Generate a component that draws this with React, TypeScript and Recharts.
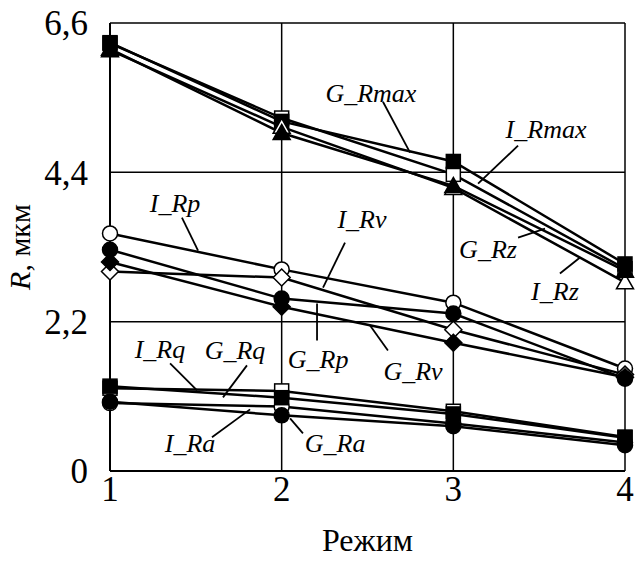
import React from "react";
import {
  LineChart,
  Line,
  XAxis,
  YAxis,
  CartesianGrid,
  ReferenceLine,
  ReferenceDot,
  Label,
} from "recharts";

const X_VALUES = [1, 2, 3, 4];
const Y_TICKS = [0, 2.2, 4.4, 6.6];
const X_TICKS = [1, 2, 3, 4];

const I_Rmax = [6.3, 5.2, 4.37, 2.98];
const I_Rz = [6.2, 5.07, 4.17, 2.78];
const I_Rp = [3.5, 2.97, 2.48, 1.51];
const I_Rv = [2.94, 2.85, 2.08, 1.42];
const I_Rq = [1.22, 1.18, 0.88, 0.5];
const I_Ra = [1.0, 0.95, 0.7, 0.42];

const G_Rmax = [6.31, 5.15, 4.56, 3.05];
const G_Rz = [6.22, 4.98, 4.2, 2.95];
const G_Rp = [3.26, 2.54, 2.32, 1.36];
const G_Rv = [3.08, 2.42, 1.89, 1.38];
const G_Rq = [1.25, 1.08, 0.84, 0.49];
const G_Ra = [1.02, 0.82, 0.66, 0.38];

// series: name, values, marker shape, filled (drawing order)
const SERIES = [
  { name: "I_Rmax", values: I_Rmax, shape: "square", filled: false },
  { name: "G_Rmax", values: G_Rmax, shape: "square", filled: true },
  { name: "I_Rz", values: I_Rz, shape: "triangle", filled: false },
  { name: "G_Rz", values: G_Rz, shape: "triangle", filled: true },
  { name: "I_Rp", values: I_Rp, shape: "circle", filled: false },
  { name: "I_Rv", values: I_Rv, shape: "diamond", filled: false },
  { name: "G_Rp", values: G_Rp, shape: "circle", filled: true },
  { name: "G_Rv", values: G_Rv, shape: "diamond", filled: true },
  { name: "I_Rq", values: I_Rq, shape: "square", filled: false },
  { name: "I_Ra", values: I_Ra, shape: "circle", filled: false },
  { name: "G_Rq", values: G_Rq, shape: "square", filled: true },
  { name: "G_Ra", values: G_Ra, shape: "circle", filled: true },
];

// annotation labels (data coords) and leader lines (data coords)
const ANNOTATIONS = [
  { text: "G_Rmax", x: 2.52, y: 5.57, line: [2.59, 5.44, 2.748, 4.69] },
  { text: "I_Rmax", x: 3.54, y: 5.04, line: [3.377, 4.793, 3.144, 4.234] },
  { text: "G_Rz", x: 3.202, y: 3.277, line: [3.377, 3.439, 3.534, 3.571] },
  { text: "I_Rz", x: 3.592, y: 2.655, line: [3.621, 2.91, 3.738, 3.145] },
  { text: "I_Rv", x: 2.468, y: 3.719, line: [2.369, 3.366, 2.241, 2.703] },
  { text: "I_Rp", x: 1.379, y: 3.954, line: [1.419, 3.733, 1.513, 3.247] },
  { text: "G_Rp", x: 2.212, y: 1.645, line: [2.206, 1.924, 2.206, 2.468] },
  { text: "G_Rv", x: 2.765, y: 1.469, line: [2.619, 1.776, 2.515, 2.144] },
  { text: "I_Rq", x: 1.291, y: 1.792, line: [1.35, 1.585, 1.507, 1.188] },
  { text: "G_Rq", x: 1.728, y: 1.776, line: [1.798, 1.556, 1.658, 1.085] },
  { text: "I_Ra", x: 1.466, y: 0.408, line: [1.594, 0.496, 1.816, 0.908] },
  { text: "G_Ra", x: 2.311, y: 0.408, line: [2.124, 0.555, 2.049, 0.776] },
];

const FONT = "Liberation Serif";

const rows = X_VALUES.map((x, i) => {
  const r: any = { x };
  SERIES.forEach((s) => {
    r[s.name] = s.values[i];
  });
  return r;
});

function Marker({ cx, cy, shape, filled }: any) {
  if (cx == null || cy == null) return null;
  const fill = filled ? "#000" : "#fff";
  const common = { fill, stroke: "#000", strokeWidth: 1.5 };
  if (shape === "square") {
    return <rect x={cx - 7} y={cy - 7} width={14} height={14} {...common} />;
  }
  if (shape === "circle") {
    return <circle cx={cx} cy={cy} r={7.5} {...common} />;
  }
  if (shape === "diamond") {
    return (
      <polygon
        points={`${cx},${cy - 8.5} ${cx + 8.5},${cy} ${cx},${cy + 8.5} ${cx - 8.5},${cy}`}
        {...common}
      />
    );
  }
  return (
    <polygon
      points={`${cx},${cy - 8.5} ${cx + 8.5},${cy + 6.5} ${cx - 8.5},${cy + 6.5}`}
      {...common}
    />
  );
}

const fmt = (v: number) => String(v).replace(".", ",");

function YLabel(props: any) {
  const vb = props.viewBox || {};
  const cx = 20;
  const cy = vb.y + vb.height / 2;
  return (
    <text
      x={cx}
      y={cy}
      transform={`rotate(-90, ${cx}, ${cy})`}
      textAnchor="middle"
      dy={10}
      fontFamily={FONT}
      style={{ fontFamily: FONT }}
      fontSize={30}
      fill="#000"
    >
      <tspan fontStyle="italic">R</tspan>
      <tspan>, мкм</tspan>
    </text>
  );
}

function XLabel(props: any) {
  const vb = props.viewBox || {};
  return (
    <text
      x={vb.x + vb.width / 2}
      y={551}
      textAnchor="middle"
      fontFamily={FONT}
      style={{ fontFamily: FONT }}
      fontSize={32}
      fill="#000"
    >
      Режим
    </text>
  );
}

export default function App() {
  return (
    <div style={{ position: "absolute", left: 0, top: 0 }}>
      <LineChart
        width={635}
        height={566}
        data={rows}
        margin={{ top: 23, right: 10, bottom: 10, left: 0 }}
      >
        <CartesianGrid stroke="#000" strokeWidth={1.5} />
        <XAxis
          dataKey="x"
          type="number"
          domain={[1, 4]}
          ticks={X_TICKS}
          height={85}
          axisLine={{ stroke: "#000", strokeWidth: 2 }}
          tickLine={false}
          tickSize={2}
          tickMargin={3}
          tick={{ fill: "#000", fontSize: 35, fontFamily: FONT, style: { fontFamily: FONT } }}
        >
          <Label content={XLabel} />
        </XAxis>
        <YAxis
          type="number"
          domain={[0, 6.6]}
          ticks={Y_TICKS}
          width={110}
          allowDataOverflow
          axisLine={{ stroke: "#000", strokeWidth: 2 }}
          tickLine={false}
          tickSize={4}
          tickMargin={18}
          tickFormatter={fmt}
          tick={{ fill: "#000", fontSize: 35, fontFamily: FONT, style: { fontFamily: FONT } }}
        >
          <Label content={YLabel} />
        </YAxis>
        {ANNOTATIONS.map((a) => (
          <ReferenceLine
            key={"l" + a.text}
            segment={[
              { x: a.line[0], y: a.line[1] },
              { x: a.line[2], y: a.line[3] },
            ]}
            stroke="#000"
            strokeWidth={1.8}
          />
        ))}
        {SERIES.map((s) => (
          <Line
            key={s.name}
            dataKey={s.name}
            stroke="#000"
            strokeWidth={2.5}
            isAnimationActive={false}
            activeDot={false}
            dot={(p: any) => (
              <Marker
                key={s.name + "-" + p.index}
                cx={p.cx}
                cy={p.cy}
                shape={s.shape}
                filled={s.filled}
              />
            )}
          />
        ))}
        {ANNOTATIONS.map((a) => (
          <ReferenceDot
            key={"t" + a.text}
            x={a.x}
            y={a.y}
            r={0}
            shape={(p: any) => (
              <text
                x={p.cx}
                y={p.cy}
                dy={9}
                textAnchor="middle"
                fontFamily={FONT}
                fontStyle="italic"
                style={{ fontFamily: FONT, fontStyle: "italic" }}
                fontSize={26}
                fill="#000"
              >
                {a.text}
              </text>
            )}
          />
        ))}
      </LineChart>
    </div>
  );
}
